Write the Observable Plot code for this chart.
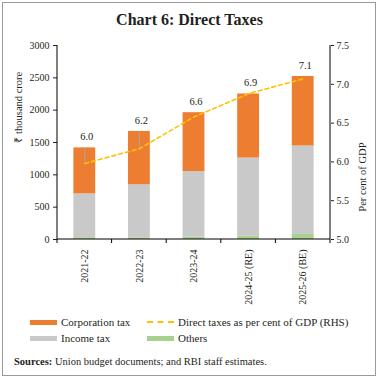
<!DOCTYPE html>
<html><head><meta charset="utf-8">
<script src="https://cdn.jsdelivr.net/npm/d3@7"></script>
<script src="https://cdn.jsdelivr.net/npm/@observablehq/plot@0.6"></script>
<style>
body{margin:0;background:#fff;}
#wrap{position:relative;width:379px;height:381px;font-family:"Liberation Serif",serif;color:#231f20;overflow:hidden;}
#box{position:absolute;left:2px;top:2px;width:372px;height:372px;border:1.5px solid #9a9a9a;}
#title{position:absolute;left:0;width:379px;top:11px;line-height:18px;text-align:center;font-weight:bold;font-size:16px;font-family:"Liberation Serif",serif;}
#chart{position:absolute;left:0;top:30px;}
.leg{position:absolute;font-size:11px;line-height:12px;white-space:nowrap;font-family:"Liberation Serif",serif;}
.sw{position:absolute;}
#src{position:absolute;left:14px;top:356px;font-size:10.5px;line-height:12px;white-space:nowrap;font-family:"Liberation Serif",serif;}
</style></head>
<body>
<div id="wrap">
  <div id="box"></div>
  <div id="title">Chart 6: Direct Taxes</div>
  <div id="chart"></div>
  <div id="legend"></div>
  <div id="src"><b>Sources:</b> Union budget documents; and RBI staff estimates.</div>
</div>
<script>
// ---- data ----
const years = ["2021-22", "2022-23", "2023-24", "2024-25 (RE)", "2025-26 (BE)"];
const corporationTax = [712, 826, 911, 990, 1075];
const incomeTax = [678, 820, 1015, 1205, 1368];
const others = [27, 25, 35, 55, 78];
const directTaxPctGDP = [5.98, 6.17, 6.58, 6.88, 7.07];
const seriesNames = ["Others", "Income tax", "Corporation tax"];
const seriesColors = ["#A9D18E", "#C9C9C9", "#ED7D31"];
const lineName = "Direct taxes as per cent of GDP (RHS)";
const lineColor = "#FFC000";
const leftTicks = [0, 500, 1000, 1500, 2000, 2500, 3000];
const rightTicks = [5.0, 5.5, 6.0, 6.5, 7.0, 7.5];
const rhsMin = 5.0, rhsMax = 7.5, lhsMax = 3000;

// ---- derived tables ----
const rhs = v => (v - rhsMin) / (rhsMax - rhsMin) * lhsMax;
const unrhs = y => y / lhsMax * (rhsMax - rhsMin) + rhsMin;
const seriesValues = {"Others": others, "Income tax": incomeTax, "Corporation tax": corporationTax};
const stackRows = [];
years.forEach((yr, i) => seriesNames.forEach(s => stackRows.push({year: yr, series: s, value: seriesValues[s][i]})));
const totals = years.map((yr, i) => corporationTax[i] + incomeTax[i] + others[i]);
const lineRows = years.map((yr, i) => ({
  year: yr, pt: rhs(directTaxPctGDP[i]), total: totals[i],
  labelY: Math.max(totals[i], rhs(directTaxPctGDP[i])),
  label: d3.format(".1f")(directTaxPctGDP[i])
}));
const leaders = lineRows.filter(d => d.total - d.pt > 100);

const chart = Plot.plot({
  width: 379, height: 280,
  marginTop: 15, marginBottom: 71, marginLeft: 57, marginRight: 49,
  style: {fontFamily: "Liberation Serif", fontSize: "10px", color: "#231f20", background: "transparent"},
  x: {domain: years, paddingInner: 0.6, paddingOuter: 0.3, align: 0.5, round: false, label: null},
  y: {domain: [0, lhsMax], label: null},
  color: {domain: seriesNames, range: seriesColors},
  marks: [
    Plot.barY(stackRows, {x: "year", y: "value", fill: "series", order: seriesNames}),
    Plot.link(leaders, {x1: "year", x2: "year", y1: "total", y2: "pt", stroke: "#a6a6a6", strokeWidth: 1}),
    Plot.line(lineRows, {x: "year", y: "pt", stroke: lineColor, strokeWidth: 1.6, strokeDasharray: "4,3"}),
    Plot.text(lineRows, {x: "year", y: "labelY", text: "label", dy: -11, dx: 2, fontSize: 10.5, fill: "#231f20"}),
    Plot.axisY({ticks: leftTicks, anchor: "left", tickFormat: d3.format("d"), tickSize: 4, tickPadding: 4, label: null, fontSize: 10}),
    Plot.axisY({ticks: rightTicks.map(rhs), anchor: "right", tickFormat: d => d3.format(".1f")(unrhs(d)), tickSize: 3, tickPadding: 3, label: null, fontSize: 10}),
    Plot.axisX({tickSize: 0, tickRotate: -90, tickPadding: 10, label: null, fontSize: 10}),
    Plot.text(["₹ thousand crore"], {frameAnchor: "left", rotate: -90, dx: -39, fontSize: 10.5, fill: "#231f20"}),
    Plot.text(["Per cent of GDP"], {frameAnchor: "right", rotate: -90, dx: 32, fontSize: 10.5, fill: "#231f20"})
  ]
});
document.getElementById("chart").appendChild(chart);

// axis lines and band-boundary ticks from the library's scales
const svg = d3.select(chart.tagName.toLowerCase() === "svg" ? chart : chart.querySelector("svg"));
const xs = chart.scale("x"), ys = chart.scale("y");
const x0 = Math.min(...xs.range), x1 = Math.max(...xs.range);
const yb = Math.max(...ys.range), yt = Math.min(...ys.range);
const step = xs.step || (x1 - x0) / years.length;
const g = svg.append("g").attr("stroke", "#000").attr("stroke-width", 1);
g.append("line").attr("x1", x0).attr("x2", x0).attr("y1", yt).attr("y2", yb);
g.append("line").attr("x1", x1).attr("x2", x1).attr("y1", yt).attr("y2", yb);
g.append("line").attr("x1", x0).attr("x2", x1).attr("y1", yb).attr("y2", yb);
for (let i = 0; i <= years.length; i++) {
  const xx = x0 + i * step;
  g.append("line").attr("x1", xx).attr("x2", xx).attr("y1", yb).attr("y2", yb + 4);
}

// legend
const legend = document.getElementById("legend");
const legItems = [
  {name: "Corporation tax", color: seriesColors[2], type: "bar", col: 0, row: 0},
  {name: lineName, color: lineColor, type: "line", col: 1, row: 0},
  {name: "Income tax", color: seriesColors[1], type: "bar", col: 0, row: 1},
  {name: "Others", color: seriesColors[0], type: "bar", col: 1, row: 1}
];
const colX = [30, 147], rowY = [322, 338];
legItems.forEach(it => {
  const sw = document.createElement("div");
  sw.className = "sw";
  sw.style.left = colX[it.col] + "px";
  sw.style.width = "27px";
  if (it.type === "bar") {
    sw.style.top = (rowY[it.row] - 2.5) + "px";
    sw.style.height = "5px";
    sw.style.background = it.color;
  } else {
    sw.style.top = (rowY[it.row] - 1) + "px";
    sw.style.height = "0px";
    sw.style.borderTop = "2px dashed " + it.color;
  }
  legend.appendChild(sw);
  const t = document.createElement("div");
  t.className = "leg";
  t.style.left = (colX[it.col] + 31) + "px";
  t.style.top = (rowY[it.row] - 6.5) + "px";
  t.textContent = it.name;
  legend.appendChild(t);
});
</script>
</body></html>
